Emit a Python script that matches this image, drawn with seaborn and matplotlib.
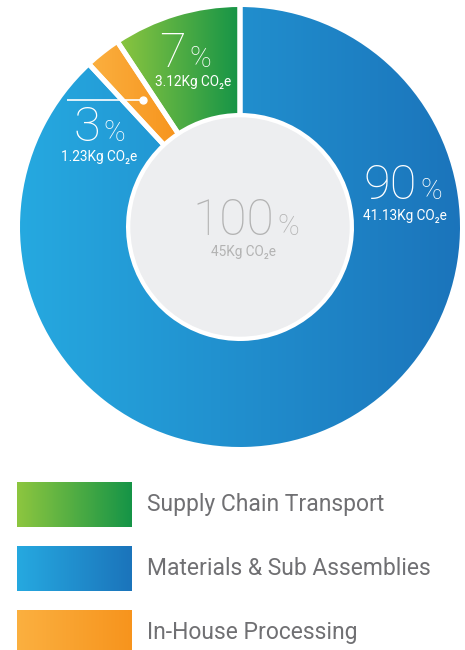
import numpy as np
import matplotlib
matplotlib.use('Agg')
import matplotlib.pyplot as plt
import seaborn as sns

sns.set_style('white')
plt.rcParams['font.family'] = ['Roboto', 'DejaVu Sans']

# fatias no sentido horario a partir do topo
categorias = ['Materials & Sub Assemblies', 'In-House Processing', 'Supply Chain Transport']
# parte do anel como desenhada na figura (%)
fatia = [88.1, 2.6, 9.3]
rotulo_pct = ['90', '3', '7']
rotulo_kg = ['41.13Kg CO₂e', '1.23Kg CO₂e', '3.12Kg CO₂e']
total_pct = '100'
total_kg = '45Kg CO₂e'
# legenda de cima para baixo
legenda = ['Supply Chain Transport', 'Materials & Sub Assemblies', 'In-House Processing']

cores = {
    'Materials & Sub Assemblies': ('#26a9e0', '#1b74bb'),
    'In-House Processing': ('#fbb040', '#f7941d'),
    'Supply Chain Transport': ('#8dc63f', '#159447'),
}

W, H = 465, 650
fig = plt.figure(figsize=(4.65, 6.5), dpi=100)
ax = fig.add_axes([0, 0, 1, 1])
cx, cy = 240, H - 227
grad = np.linspace(0, 1, 256).reshape(1, -1)

#rosca
cunhas, _ = ax.pie(fatia, startangle=90, counterclock=False, radius=222.5, center=(cx, cy),
                   wedgeprops=dict(width=111, facecolor='none', edgecolor='white', linewidth=3.6))
for cunha, cat in zip(cunhas, categorias):
    cmap = sns.blend_palette(cores[cat], as_cmap=True)
    ext = cunha.get_path().get_extents()
    im = ax.imshow(grad, cmap=cmap, extent=(ext.x0, ext.x1, ext.y0, ext.y1),
                   aspect='auto', zorder=1, interpolation='bicubic')
    im.set_clip_path(cunha)
    cunha.set_zorder(2)

#circulo do meio
ax.add_patch(plt.Circle((cx, cy), 109, color='#edeef0', zorder=3))

#rotulos (numero, %, texto kg)
pos = {'90': (417, 199, 405, 220), '3': (100, 141, 99, 161), '7': (186, 67, 193, 86)}
for p, kg in zip(rotulo_pct, rotulo_kg):
    xs, yb, xk, yk = pos[p]
    ax.text(xs, H - yb, p, color='white', fontsize=35, fontweight='light', ha='right', va='baseline', zorder=5)
    ax.text(xs + 3, H - yb, '%', color='white', fontsize=21, fontweight='light', ha='left', va='baseline', zorder=5)
    ax.text(xk, H - yk, kg, color='white', fontsize=9.8, ha='center', va='baseline', zorder=5)

ax.text(274, H - 235, total_pct, color='#b3b3b3', fontsize=36, fontweight='light', ha='right', va='baseline', zorder=5)
ax.text(277, H - 235, '%', color='#b3b3b3', fontsize=21, fontweight='light', ha='left', va='baseline', zorder=5)
ax.text(243, H - 256, total_kg, color='#b3b3b3', fontsize=9.8, ha='center', va='baseline', zorder=5)

#linha guia do 3%
ax.plot([67, 143], [H - 100, H - 100], color='white', lw=1.2, zorder=5, solid_capstyle='butt')
ax.plot([143], [H - 100], 'o', color='white', ms=5, zorder=5)

#legenda
topo = [482, 546, 610]
for t, nome in zip(topo, legenda):
    cmap = sns.blend_palette(cores[nome], as_cmap=True)
    ax.imshow(grad, cmap=cmap, extent=(17, 131, H - (t + 45), H - t), aspect='auto',
              zorder=1, interpolation='bicubic')
    ax.text(147, H - (t + 22.5), nome, color='#707073', fontsize=16.5,
            ha='left', va='center')

ax.set_xlim(0, W)
ax.set_ylim(0, H)
ax.set_aspect('auto')
ax.axis('off')
fig.savefig('out.png', dpi=100, facecolor='white')
